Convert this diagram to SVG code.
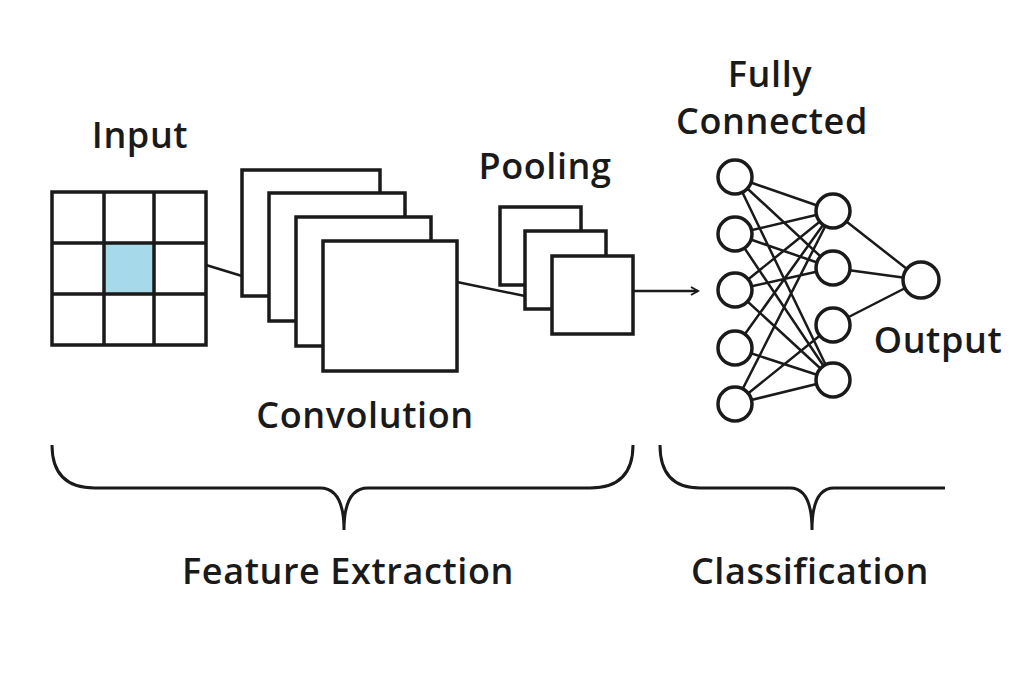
<svg xmlns="http://www.w3.org/2000/svg" width="1024" height="683" viewBox="0 0 1024 683">
<defs>
<style>
.s{fill:#fff;stroke:#1a1a1a;stroke-width:3.5}
.l{fill:none;stroke:#1a1a1a;stroke-width:2.5}
.b{fill:none;stroke:#1a1a1a;stroke-width:3}
text{font-family:"Open Sans","Liberation Sans",sans-serif;font-size:36px;fill:#1a1a1a;text-anchor:middle;font-weight:600;letter-spacing:0.6px}
</style>
<marker id="a" markerWidth="10" markerHeight="10" refX="8" refY="5" orient="auto" markerUnits="userSpaceOnUse"><path d="M1,1 L8,5 L1,9" fill="none" stroke="#1a1a1a" stroke-width="2"/></marker>
</defs>
<rect width="1024" height="683" fill="#fff"/>
<g id="connectors">
<path class="l" d="M206,265 L242,276 M457,282 L525,296"/>
<path class="l" d="M633,291 L698,291" marker-end="url(#a)"/>
<path class="l" d="M735,177 L833,211 M735,177 L833,268 M735,177 L833,380 M735,234 L833,211 M735,234 L833,268 M735,234 L833,380 M735,290 L833,211 M735,290 L833,268 M735,290 L833,380 M735,348 L833,211 M735,348 L833,380 M735,404 L833,211 M735,404 L833,325 M735,404 L833,380 M833,211 L921,280 M833,268 L921,280 M833,325 L921,280"/>
</g>
<g id="input">
<rect class="s" x="52" y="192" width="154" height="153"/>
<rect x="104" y="243" width="50" height="51" fill="#a6d9ea"/>
<path class="s" d="M104,192V345M154,192V345M52,243H206M52,294H206"/>
<text x="140" y="148">Input</text>
</g>
<g id="convolution">
<rect class="s" x="242" y="170" width="138" height="126"/>
<rect class="s" x="269" y="193" width="136" height="128"/>
<rect class="s" x="296" y="217" width="135" height="129"/>
<rect class="s" x="323" y="241" width="134" height="130"/>
<text x="365" y="428">Convolution</text>
</g>
<g id="pooling">
<rect class="s" x="500" y="207" width="81" height="78"/>
<rect class="s" x="525" y="231" width="81" height="78"/>
<rect class="s" x="552" y="256" width="81" height="78"/>
<text x="545" y="179">Pooling</text>
</g>
<g id="fc">
<circle class="s" cx="735" cy="177" r="17"/><circle class="s" cx="735" cy="234" r="17"/><circle class="s" cx="735" cy="290" r="17"/><circle class="s" cx="735" cy="348" r="17"/><circle class="s" cx="735" cy="404" r="17"/>
<circle class="s" cx="833" cy="211" r="17"/><circle class="s" cx="833" cy="268" r="17"/><circle class="s" cx="833" cy="325" r="17"/><circle class="s" cx="833" cy="380" r="17"/>
<text x="770" y="87">Fully</text><text x="772" y="134">Connected</text>
</g>
<g id="output">
<circle class="s" cx="921" cy="280" r="18"/>
<text x="938" y="353">Output</text>
</g>
<g id="braces">
<path class="b" d="M52,445 Q52,488 95,488 L320,488 Q344,488 344,530 Q344,488 368,488 L590,488 Q633,488 633,445"/>
<path class="b" d="M660,445 Q660,488 700,488 L790,488 Q812,488 812,530 Q812,488 834,488 L945,488"/>
<text x="348" y="584">Feature Extraction</text>
<text x="810" y="584">Classification</text>
</g>
</svg>
